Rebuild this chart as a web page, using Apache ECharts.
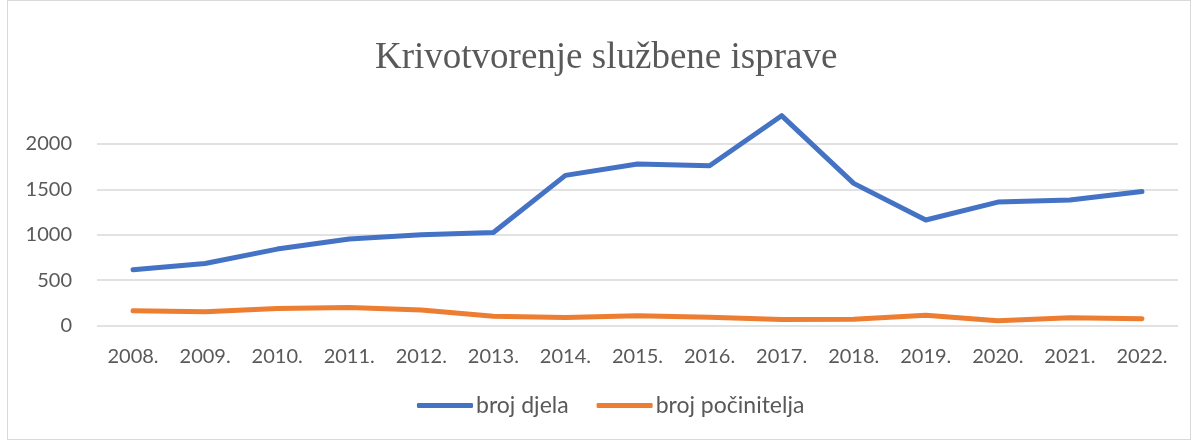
<!DOCTYPE html>
<html>
<head>
<meta charset="utf-8">
<script src="https://cdn.jsdelivr.net/npm/echarts@6/dist/echarts.min.js"></script>
<style>
  html, body { margin: 0; padding: 0; background: #fff; }
  #chart { position: absolute; left: 7px; top: 0; width: 1184px; height: 440px; border: 1px solid #d9d9d9; box-sizing: border-box; }
</style>
</head>
<body>
<div id="chart"></div>
<script>
const years = ['2008.', '2009.', '2010.', '2011.', '2012.', '2013.', '2014.', '2015.', '2016.', '2017.', '2018.', '2019.', '2020.', '2021.', '2022.'];
const brojDjela = [614, 684, 842, 953, 1000, 1025, 1654, 1779, 1761, 2312, 1566, 1162, 1360, 1383, 1477];
const brojPocinitelja = [162, 151, 188, 199, 170, 103, 88, 107, 92, 66, 70, 114, 52, 85, 74];

const labelColor = '#595959';
const myChart = echarts.init(document.getElementById('chart'));
myChart.setOption({
  animation: false,
  title: {
    text: 'Krivotvorenje službene isprave',
    left: 362,
    top: 34,
    textStyle: {
      fontFamily: 'Liberation Serif',
      fontSize: 37,
      fontWeight: 'normal',
      color: labelColor
    }
  },
  color: ['#4472C4', '#ED7D31'],
  grid: {
    left: 89,
    right: 12,
    top: 143,
    height: 181.5
  },
  legend: {
    bottom: 17,
    left: 404,
    icon: 'roundRect',
    itemWidth: 56,
    itemHeight: 5,
    itemGap: 28,
    textStyle: { fontFamily: 'Lato', fontSize: 23, color: labelColor, padding: [0, 0, 0, -2] }
  },
  xAxis: {
    type: 'category',
    data: years,
    boundaryGap: true,
    axisLine: { show: false },
    axisTick: { show: false },
    axisLabel: { fontFamily: 'Lato', fontSize: 20, color: labelColor, margin: 21 }
  },
  yAxis: {
    type: 'value',
    min: 0,
    max: 2000,
    interval: 500,
    axisLine: { show: false },
    axisTick: { show: false },
    axisLabel: { fontFamily: 'Lato', fontSize: 20, color: labelColor, margin: 25, formatter: v => String(v) },
    splitLine: { lineStyle: { color: '#d9d9d9', width: 1.5 } }
  },
  series: [
    {
      name: 'broj djela',
      type: 'line',
      data: brojDjela,
      symbol: 'none',
      clip: false,
      lineStyle: { width: 5, cap: 'round', join: 'round' }
    },
    {
      name: 'broj počinitelja',
      type: 'line',
      data: brojPocinitelja,
      symbol: 'none',
      clip: false,
      lineStyle: { width: 5, cap: 'round', join: 'round' }
    }
  ]
});
</script>
</body>
</html>
